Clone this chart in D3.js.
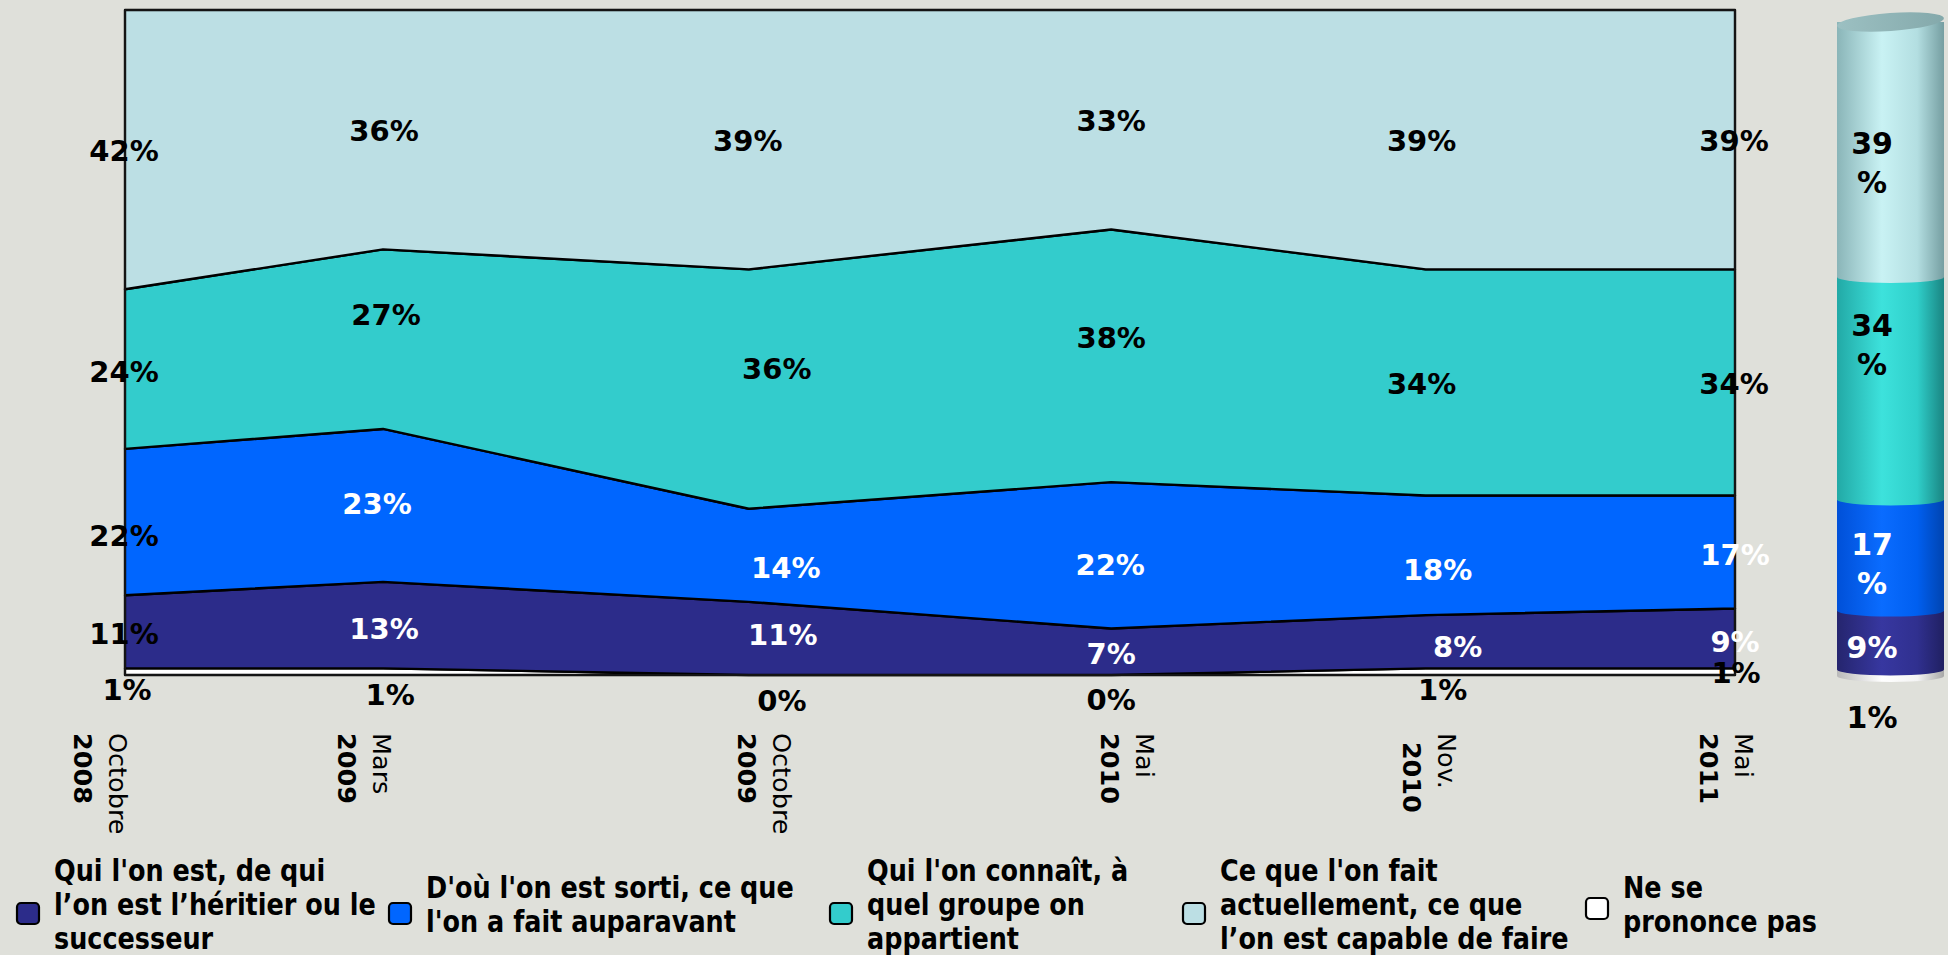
<!DOCTYPE html>
<html>
<head>
<meta charset="utf-8">
<script src="https://cdn.jsdelivr.net/npm/d3@7"></script>
<style>
  html, body { margin: 0; padding: 0; background: #dfe0da; }
  svg { display: block; }
  text { font-family: "DejaVu Sans", Verdana, sans-serif; }
</style>
</head>
<body>
<svg id="chart" width="1948" height="955"></svg>
<script>
// ---- survey waves ----
const surveyDates = ["2008-10-01", "2009-03-01", "2009-10-01", "2010-05-01", "2010-11-01", "2011-05-01"];
const monthLabels = ["Octobre", "Mars", "Octobre", "Mai", "Nov.", "Mai"];
const yearLabels  = ["2008", "2009", "2009", "2010", " 2010", "2011"];

// ---- answers (%), stacked from the bottom ----
const nsp       = [1, 1, 0, 0, 1, 1];        // Ne se prononce pas
const heritier  = [11, 13, 11, 7, 8, 9];     // Qui l'on est, de qui l'on est l'héritier...
const parcours  = [22, 23, 14, 22, 18, 17];  // D'où l'on est sorti...
const groupe    = [24, 27, 36, 38, 34, 34];  // Qui l'on connaît...
const capacite  = [42, 36, 39, 33, 39, 39];  // Ce que l'on fait actuellement...

const seriesKeys = ["nsp", "heritier", "parcours", "groupe", "capacite"];
const seriesValues = { nsp, heritier, parcours, groupe, capacite };

const legendLines = {
  heritier: ["Qui l'on est, de qui", "l’on est l’héritier ou le", "successeur"],
  parcours: ["D'où l'on est sorti, ce que", "l'on a fait auparavant"],
  groupe:   ["Qui l'on connaît, à", "quel groupe on", "appartient"],
  capacite: ["Ce que l'on fait", "actuellement, ce que", "l’on est capable de faire"],
  nsp:      ["Ne se", "prononce pas"]
};
const legendOrder = ["heritier", "parcours", "groupe", "capacite", "nsp"];

// ---- styling ----
const fills = { nsp: "#ffffff", heritier: "#2c2c8a", parcours: "#0066ff", groupe: "#33cccc", capacite: "#bcdfe4" };
const labelInk = {
  nsp:      ["#000", "#000", "#000", "#000", "#000", "#000"],
  heritier: ["#000", "#fff", "#fff", "#fff", "#fff", "#fff"],
  parcours: ["#000", "#fff", "#fff", "#fff", "#fff", "#fff"],
  groupe:   ["#000", "#000", "#000", "#000", "#000", "#000"],
  capacite: ["#000", "#000", "#000", "#000", "#000", "#000"]
};
// hand placement of the value labels (pixels from the band centre)
const labelShift = {
  nsp:      [[2, 18], [7, 23], [33, 25], [0, 24], [17, 18], [1, 1]],
  heritier: [[-1, 2], [1, 3], [34, -4], [0, 2], [32, 5], [0, 3]],
  parcours: [[-1, 13], [-6, -2], [37, 12], [-1, 9], [12, 14], [0, 2]],
  groupe:   [[-1, 2], [3, -25], [28, -21], [0, -18], [-4, 1], [-1, 1]],
  capacite: [[-1, 1], [1, 1], [-1, 1], [0, 1], [-4, 1], [-1, 1]]
};
// axis label placement: centre of the year line relative to the tick
const tickShift = [-42, -36, -2, -1, -13, -26];

const svg = d3.select("#chart");
const plot = { left: 125, right: 1735, top: 10, bottom: 675 };

const parse = d3.timeParse("%Y-%m-%d");
const dates = surveyDates.map(parse);

const x = d3.scaleTime().domain(d3.extent(dates)).range([plot.left, plot.right]);
const y = d3.scaleLinear().domain([0, 100]).range([plot.bottom, plot.top]);

const rows = dates.map((d, i) => {
  const r = { date: d };
  seriesKeys.forEach(k => r[k] = seriesValues[k][i]);
  return r;
});
const stacked = d3.stack().keys(seriesKeys)(rows);

// ---- stacked areas ----
const area = d3.area()
  .x(d => x(d.data.date))
  .y0(d => y(d[0]))
  .y1(d => y(d[1]));

svg.append("g").selectAll("path")
  .data(stacked)
  .join("path")
  .attr("d", area)
  .attr("fill", s => fills[s.key])
  .attr("stroke", "#000")
  .attr("stroke-width", 2.4)
  .attr("stroke-linejoin", "round");

svg.append("rect")
  .attr("x", plot.left).attr("y", plot.top)
  .attr("width", plot.right - plot.left).attr("height", plot.bottom - plot.top)
  .attr("fill", "none").attr("stroke", "#1a1a1a").attr("stroke-width", 1.6);

// ---- value labels ----
const labelSize = 29;
const lg = svg.append("g")
  .attr("font-size", labelSize).attr("font-weight", "bold").attr("text-anchor", "middle");
stacked.forEach(s => {
  s.forEach((d, i) => {
    const [dx, dy] = labelShift[s.key][i];
    const cx = x(d.data.date) + dx;
    const cy = y((d[0] + d[1]) / 2) + dy;
    lg.append("text")
      .attr("x", cx).attr("y", cy + labelSize * 0.365)
      .attr("fill", labelInk[s.key][i])
      .text(d3.format("d")(d.data[s.key]) + "%");
  });
});

// ---- date axis labels (rotated, two lines) ----
const tickSize = 25.5;
const axisG = svg.append("g");
dates.forEach((d, i) => {
  const xc = x(d) + tickShift[i];
  const startY = 733;
  const base = tickSize * 0.365;
  axisG.append("text")
    .attr("transform", `translate(${xc - base},${startY}) rotate(90)`)
    .attr("font-size", tickSize).attr("font-weight", "bold")
    .style("white-space", "pre")
    .text(yearLabels[i]);
  axisG.append("text")
    .attr("transform", `translate(${xc + 35 - base},${startY}) rotate(90)`)
    .attr("font-size", tickSize)
    .text(monthLabels[i]);
});

// ---- latest wave as a stacked cylinder ----
const cyl = { x0: 1837, x1: 1944, top: 22, bottom: 676, ry: 6, capRy: 9 };
const cylX = (cyl.x0 + cyl.x1) / 2, cylRx = (cyl.x1 - cyl.x0) / 2;
const cyScale = d3.scaleLinear().domain([0, 100]).range([cyl.bottom, cyl.top]);
const shades = {
  nsp:      ["#b9b9b9", "#ffffff", "#f4f4f4", "#a8a8a8"],
  heritier: ["#25256e", "#3737a0", "#30308f", "#202062"],
  parcours: ["#0050d8", "#0a6cff", "#005ff0", "#0044b0"],
  groupe:   ["#22a9a6", "#3de2dc", "#2fcfca", "#1a8582"],
  capacite: ["#8ab5b8", "#c9f2f4", "#b3dee1", "#759ea1"]
};
const defs = svg.append("defs");
seriesKeys.forEach(k => {
  const g = defs.append("linearGradient").attr("id", "cyl-" + k)
    .attr("x1", "0%").attr("x2", "100%").attr("y1", "0%").attr("y2", "0%");
  [0, 0.42, 0.75, 1].forEach((o, j) =>
    g.append("stop").attr("offset", o).attr("stop-color", shades[k][j]));
});
const capGrad = defs.append("linearGradient").attr("id", "cyl-cap")
  .attr("x1", "0%").attr("x2", "100%");
capGrad.append("stop").attr("offset", 0).attr("stop-color", "#9cc0c2");
capGrad.append("stop").attr("offset", 1).attr("stop-color", "#84a9ab");

const lastIdx = dates.length - 1;
const cylG = svg.append("g");
stacked.forEach(s => {
  const d = s[lastIdx];
  const yT = cyScale(d[1]), yB = cyScale(d[0]);
  cylG.append("path")
    .attr("d", `M${cyl.x0},${yT} L${cyl.x1},${yT} L${cyl.x1},${yB} ` +
               `A${cylRx},${cyl.ry} 0 0 1 ${cyl.x0},${yB} Z`)
    .attr("fill", `url(#cyl-${s.key})`);
});
cylG.append("ellipse")
  .attr("cx", cylX).attr("cy", cyScale(100))
  .attr("rx", cylRx).attr("ry", cyl.capRy)
  .attr("transform", `rotate(-4,${cylX},${cyScale(100)})`)
  .attr("fill", "url(#cyl-cap)");

// labels on the cylinder
const cylLabelShift = { nsp: 44, heritier: 7, parcours: -11, groupe: -63, capacite: -6 };
const cylSize = 30;
const cylLab = svg.append("g")
  .attr("font-size", cylSize).attr("font-weight", "bold").attr("text-anchor", "middle");
stacked.forEach(s => {
  const d = s[lastIdx];
  const v = d.data[s.key];
  const cy = cyScale((d[0] + d[1]) / 2) + cylLabelShift[s.key];
  const lines = v >= 10 ? [String(v), "%"] : [v + "%"];
  const ink = (s.key === "parcours" || s.key === "heritier") ? "#fff" : "#000";
  lines.forEach((t, j) => {
    cylLab.append("text")
      .attr("x", 1872).attr("y", cy + j * 39 + cylSize * 0.365)
      .attr("fill", ink).text(t);
  });
});

// ---- legend ----
const legendX = [16, 388, 829, 1182, 1585];
const legSize = 30, legStep = 34, legMid = 904;
const legG = svg.append("g");
legendOrder.forEach((k, i) => {
  const g = legG.append("g").attr("transform", `translate(${legendX[i]},0)`);
  g.append("rect")
    .attr("x", 1).attr("y", k === "nsp" ? 898 : 903)
    .attr("width", 22).attr("height", 21).attr("rx", 4)
    .attr("fill", fills[k]).attr("stroke", "#000").attr("stroke-width", 2.2);
  const lines = legendLines[k];
  const t = g.append("text")
    .attr("transform", "translate(38,0) scale(0.85,1)")
    .attr("font-size", legSize).attr("font-weight", "bold").attr("fill", "#000");
  lines.forEach((line, j) => {
    const c = legMid + (j - (lines.length - 1) / 2) * legStep;
    t.append("tspan").attr("x", 0).attr("y", c + legSize * 0.365).text(line);
  });
});
</script>
</body>
</html>
